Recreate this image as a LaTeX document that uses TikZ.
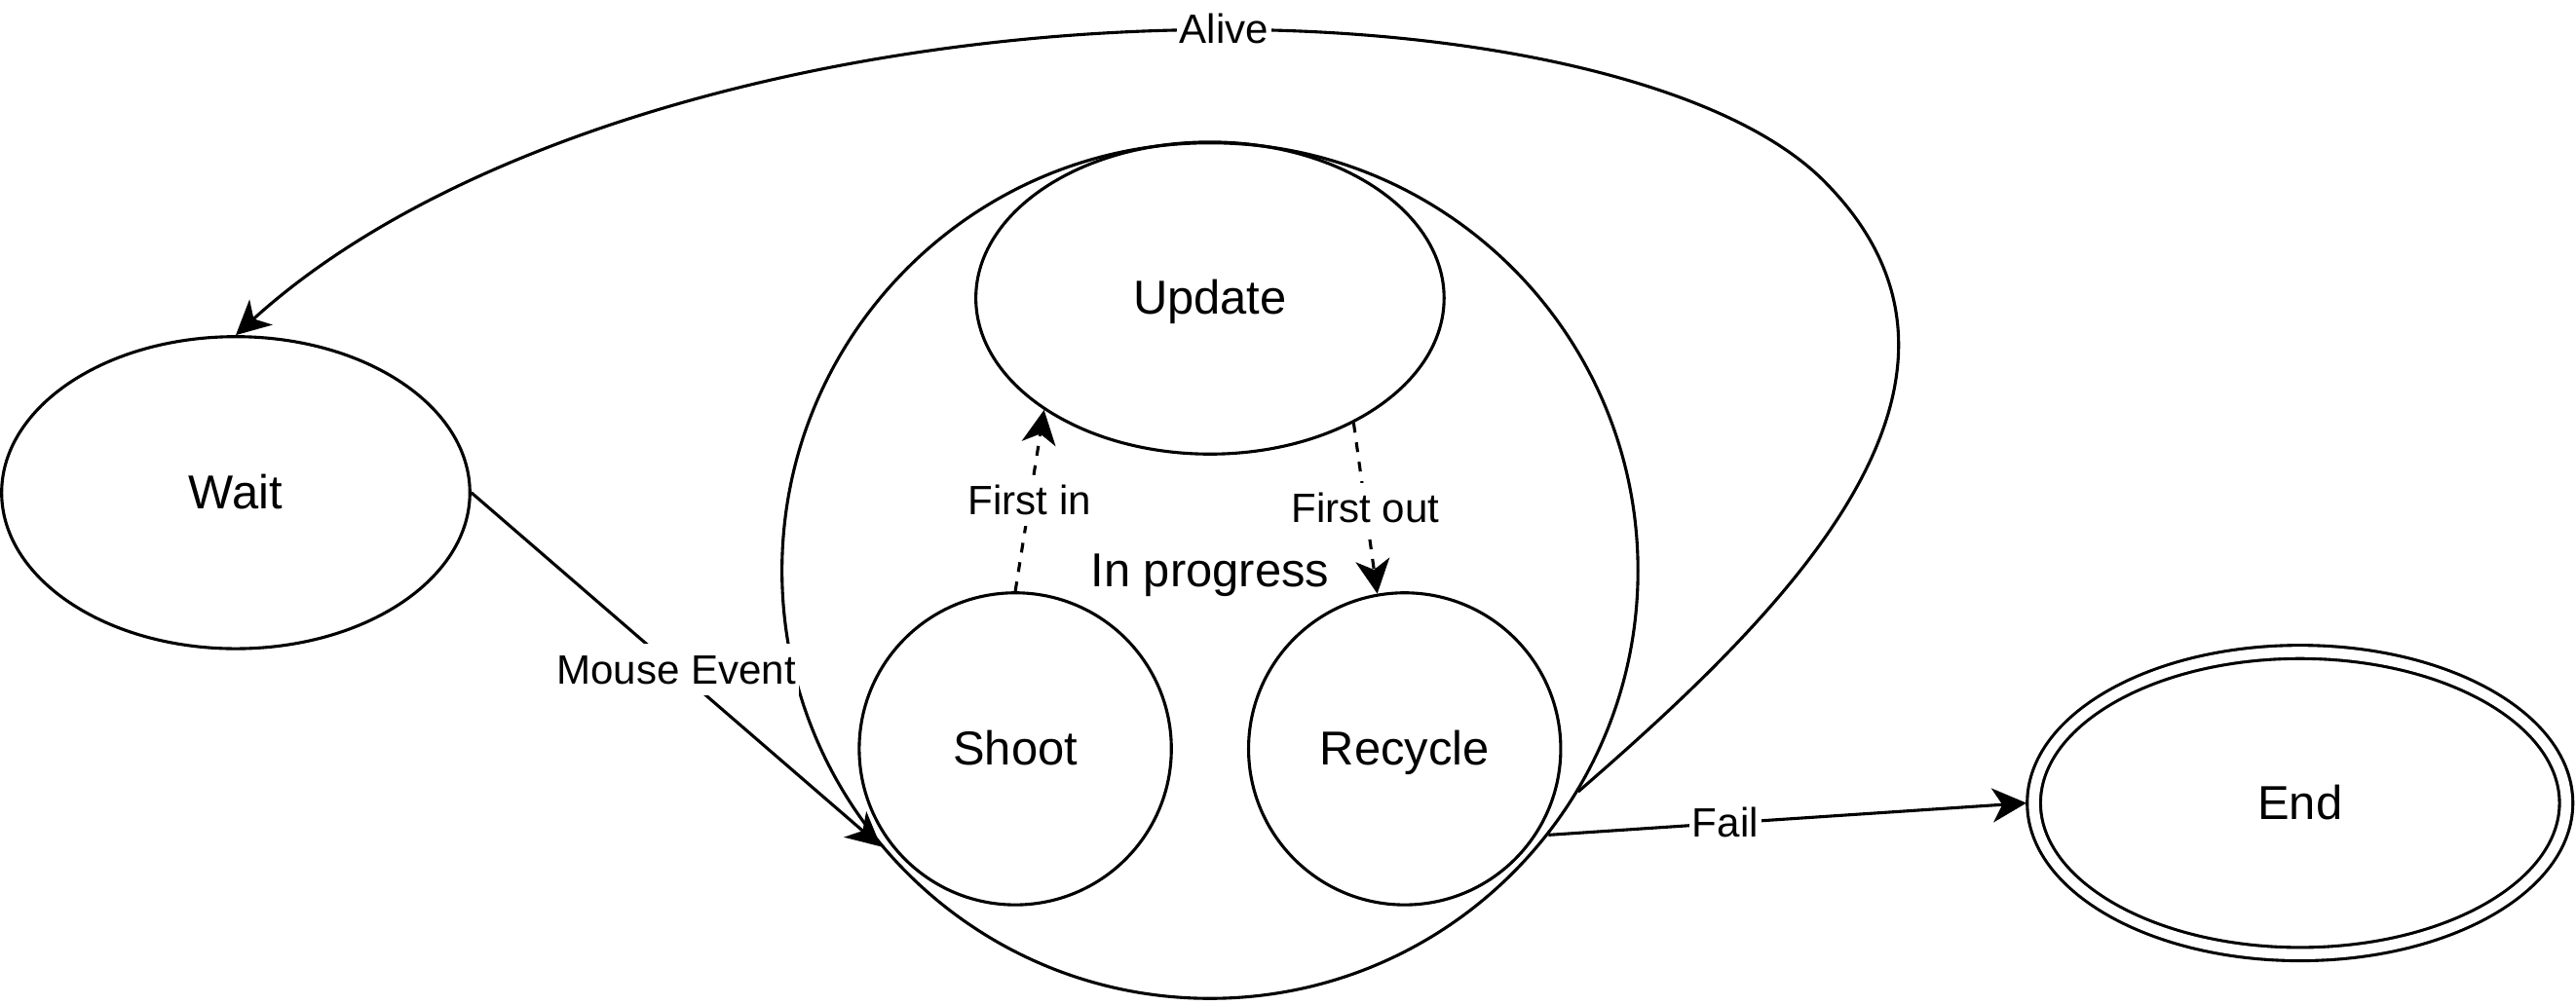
\documentclass[tikz,border=0pt]{standalone}
\usepackage{fontspec}
\setmainfont{Liberation Sans}
\usetikzlibrary{arrows.meta,shapes.geometric}

\begin{document}
\begin{tikzpicture}[x=0.2mm, y=-0.2mm, line width=1.05pt,
		state/.style={draw, ellipse, inner sep=0pt, minimum width=57mm, minimum height=38mm, text height=14.9pt, text depth=3.5pt, font=\fontsize{16.5}{19}\selectfont},
		round/.style={state, circle, minimum size=38mm},
		final/.style={state, double, double distance=1.25mm, outer sep=0.9mm, minimum width=64.8mm, minimum height=36.8mm},
		lbl/.style={fill=white, inner sep=1pt, text height=12.8pt, text depth=3pt, font=\fontsize{14.2}{17}\selectfont},
		arr/.style={-{Stealth[length=4.15mm, width=4.15mm, inset=1.2mm]}}]
					\useasboundingbox (0, 0) rectangle (1568, 612);

					\node[round, minimum size=104.2mm] (progress) at (736.5, 347.5) {In progress};
					\node[state] (update) at (736.5, 181.5) {Update};
					\node[round] (shoot) at (618, 456) {Shoot};
					\node[round] (recycle) at (855, 456) {Recycle};

					\node[state] (wait) at (143.5, 300) {Wait};
					\node[final] (finish) at (1400, 489) {End};


					\draw[arr] (wait.east) to node[lbl] {Mouse Event} (progress.220);

					\draw[arr, dashed, dash pattern=on 3.4pt off 3.4pt] (shoot.north) to node[lbl] {First in} (update.214);
					\draw[arr, dashed, dash pattern=on 3.4pt off 3.4pt] (update.-41) to node[lbl] {First out} (recycle.100);

					\draw[arr] (progress.-38) to node[lbl, pos=0.37] {Fail} (finish.west);

					\draw[arr] (progress.-31) .. controls (1090, 370) and (1230, 230) .. (1110, 110)
						.. controls (1050, 50) and (900, 18) .. (745, 18) node[lbl] {Alive}
						.. controls (520, 18) and (280, 80) .. (wait.north);
				\end{tikzpicture}
\end{document}
